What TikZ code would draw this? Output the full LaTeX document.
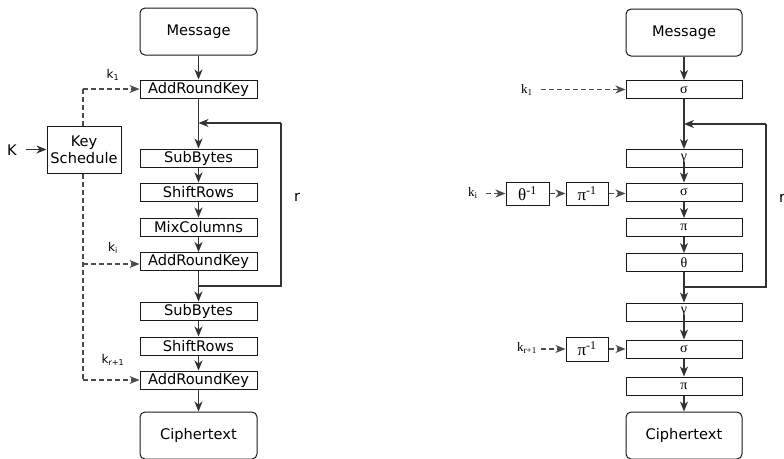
\documentclass[tikz,border=0pt]{standalone}
\usepackage{fontspec}
\setmainfont{DejaVu Sans}
\newfontfamily\serif{Liberation Serif}
\usetikzlibrary{arrows.meta}
\tikzset{
  box/.style={draw=black!90, line width=1pt, fill=white, inner sep=0pt, minimum height=18pt,
              font=\fontsize{14.6}{17}\selectfont},
  lbox/.style={box, minimum width=117pt},
  rbox/.style={box, minimum width=116pt, font=\serif\fontsize{14}{16}\selectfont},
  term/.style={box, rounded corners=5pt, minimum height=47pt},
  sbox/.style={box, minimum height=23pt, font=\serif\fontsize{17}{19}\selectfont},
  conn/.style={draw=black!80, line width=1.3pt, -{Stealth[length=10pt,width=8pt,inset=3pt]}},
  line/.style={draw=black!80, line width=1.3pt},
  dconn/.style={conn, dashed, dash pattern=on 5pt off 3pt, draw=black!70},
  dline/.style={line, dashed, dash pattern=on 5pt off 3pt, draw=black!70},
  lab/.style={inner sep=0pt, font=\fontsize{14.6}{17}\selectfont},
  klab/.style={inner sep=0pt, font=\fontsize{12}{14}\selectfont},
  rklab/.style={inner sep=0pt, font=\serif\fontsize{13}{15}\selectfont},
}
\begin{document}
\begin{tikzpicture}[x=1pt,y=-1pt]
\useasboundingbox (0,0) rectangle (784,458);
\clip (0,0) rectangle (784,458);
% ---------------- left: AES ----------------
\node[term, minimum width=117pt] (lmsg) at (198.5,31.5) {Message};
\node[lbox] (ark1) at (198.5,89) {AddRoundKey};
\node[lbox] (sb1) at (198.5,158) {SubBytes};
\node[lbox] (sr1) at (198.5,192) {ShiftRows};
\node[lbox] (mc) at (198.5,227) {MixColumns};
\node[lbox] (ark2) at (198.5,261.5) {AddRoundKey};
\node[lbox] (sb2) at (198.5,311) {SubBytes};
\node[lbox] (sr2) at (198.5,346) {ShiftRows};
\node[lbox] (ark3) at (198.5,380) {AddRoundKey};
\node[term, minimum width=117pt] (lct) at (198.5,435.5) {Ciphertext};
\node[box, minimum width=74pt, minimum height=47pt, align=center] (ks) at (84,149.5) {Key\\Schedule};
\node[lab] (K) at (12,150) {K};
\node[lab] (lr) at (297,197) {r};
\node[klab] (lk1) at (113,75) {k\textsubscript{1}};
\node[klab] (lki) at (113,248) {k\textsubscript{i}};
\node[klab] (lkr) at (113,360) {k\textsubscript{r+1}};
\coordinate (ljoin) at (198.5,123);
\coordinate (lbot) at (198.5,286);
\coordinate (lrt) at (281,123);
\coordinate (lrb) at (281,286);
\coordinate (ksT) at (83,89);
\coordinate (ksI) at (83,264);
\coordinate (ksR) at (83,380);
\coordinate (Kout) at (26,149.5);

\draw[conn] (lmsg) -- (ark1);
\draw[conn] (ark1) -- (sb1);
\draw[conn] (sb1) -- (sr1);
\draw[conn] (sr1) -- (mc);
\draw[conn] (mc) -- (ark2);
\draw[conn] (ark2) -- (sb2);
\draw[conn] (sb2) -- (sr2);
\draw[conn] (sr2) -- (ark3);
\draw[conn] (ark3) -- (lct);
\draw[line] (lbot) -- (lrb) -- (lrt);
\draw[conn] (lrt) -- (ljoin);
\draw[conn] (Kout) -- (ks);
\draw[dline] (ks.north -| ksT) -- (ksT);
\draw[dconn] (ksT) -- (ark1.west);
\draw[dline] (ks.south -| ksR) -- (ksR);
\draw[dconn] (ksI) -- (ark2.west |- ksI);
\draw[dconn] (ksR) -- (ark3.west);

% ---------------- right ----------------
\node[term, minimum width=116pt] (rmsg) at (684,32.5) {Message};
\node[rbox] (s1) at (684,89.5) {σ};
\node[rbox] (g1) at (684,158.5) {γ};
\node[rbox] (s2) at (684,192) {σ};
\node[rbox] (p1) at (684,227.5) {π};
\node[rbox] (t1) at (684,262.5) {θ};
\node[rbox] (g2) at (684,312) {γ};
\node[rbox] (s3) at (684,349) {σ};
\node[rbox] (p2) at (684,386) {π};
\node[term, minimum width=116pt] (rct) at (684,435.5) {Ciphertext};
\node[sbox, minimum width=43pt] (tinv) at (527.5,193.5) {θ\textsuperscript{-1}};
\node[sbox, minimum width=42pt] (pinv) at (587,193.5) {π\textsuperscript{-1}};
\node[sbox, minimum width=42pt, minimum height=24pt] (pinv2) at (587,349) {π\textsuperscript{-1}};
\node[rklab] (rk1) at (527,90) {k\textsubscript{1}};
\node[rklab] (rki) at (473,193) {k\textsubscript{i}};
\node[rklab] (rkr) at (527,348) {k\textsubscript{r+1}};
\node[lab, anchor=west] (rr) at (779,198) {r};
\coordinate (rjoin) at (684,124);
\coordinate (rbot) at (684,287);
\coordinate (rrt) at (766,124);
\coordinate (rrb) at (766,287);
\coordinate (rk1out) at (541,89.5);
\coordinate (rkiout) at (486,193.5);
\coordinate (rkrout) at (541,349);

\draw[conn] (rmsg) -- (s1);
\draw[conn] (s1) -- (g1);
\draw[conn] (g1.center) ++(0,3) -- (s2.north);
\draw[conn] (s2) -- (p1);
\draw[conn] (p1) -- (t1);
\draw[conn] (t1) -- (g2);
\draw[conn] (g2.center) ++(0,3) -- (s3.north);
\draw[conn] (s3) -- (p2);
\draw[conn] (p2) -- (rct);
\draw[line] (rbot) -- (rrb) -- (rrt);
\draw[conn] (rrt) -- (rjoin);
\draw[dconn] (rk1out) -- (s1.west);
\draw[dconn] (rkiout) -- (tinv.west);
\draw[dconn] (tinv) -- (pinv);
\draw[dconn] (pinv) -- (s2.west |- pinv);
\draw[dconn] (rkrout) -- (pinv2.west);
\draw[dconn] (pinv2) -- (s3.west);
\end{tikzpicture}
\end{document}
